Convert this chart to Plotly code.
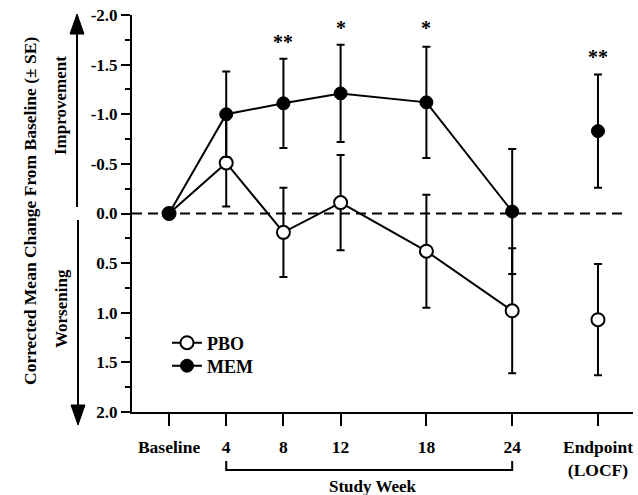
import plotly.graph_objects as go

# ---- data ----
weeks = [0, 4, 8, 12, 18, 24]
endpoint_x = [30]
tick_vals = [0, 4, 8, 12, 18, 24, 30]
tick_text = ["Baseline", "4", "8", "12", "18", "24", "Endpoint<br>(LOCF)"]

pbo_mean = [0.0, -0.51, 0.19, -0.11, 0.38, 0.98]
pbo_se = [0.0, 0.44, 0.45, 0.48, 0.57, 0.63]
pbo_end_mean = [1.07]
pbo_end_se = [0.56]

mem_mean = [0.0, -1.00, -1.11, -1.21, -1.12, -0.02]
mem_se = [0.0, 0.43, 0.45, 0.49, 0.56, 0.63]
mem_end_mean = [-0.83]
mem_end_se = [0.57]

sig_x = [8, 12, 18, 30]
sig_text = ["**", "*", "*", "**"]
sig_y = [-1.73, -1.87, -1.87, -1.58]

y_ticks = [-2.0, -1.5, -1.0, -0.5, 0.0, 0.5, 1.0, 1.5, 2.0]
y_tick_text = ["-2.0", "-1.5", "-1.0", "-0.5", "0.0", "0.5", "1.0", "1.5", "2.0"]

# ---- layout geometry ----
W, H = 638, 495
ML, MR, MT, MB = 132, 5, 15, 83
PW, PH = W - ML - MR, H - MT - MB
XMIN, XMAX = -2.59, 32.45
FONT = "Liberation Serif"


def px_x(p):
    return (p - ML) / PW


def px_y(p):
    return (H - MB - p) / PH


def wk_x(w):
    return (w - XMIN) / (XMAX - XMIN)


fig = go.Figure()

err_style = dict(type="data", color="black", thickness=2, width=4)

# PBO
fig.add_trace(go.Scatter(
    x=weeks, y=pbo_mean, mode="lines+markers", name="PBO", legend="legend",
    error_y=dict(array=pbo_se, **err_style),
    line=dict(color="black", width=2),
    marker=dict(symbol="circle", size=13, color="white", line=dict(color="black", width=2)),
))
fig.add_trace(go.Scatter(
    x=endpoint_x, y=pbo_end_mean, mode="markers", showlegend=False,
    error_y=dict(array=pbo_end_se, **err_style),
    marker=dict(symbol="circle", size=13, color="white", line=dict(color="black", width=2)),
))
# MEM
fig.add_trace(go.Scatter(
    x=weeks, y=mem_mean, mode="lines+markers", name="MEM", legend="legend2",
    error_y=dict(array=mem_se, **err_style),
    line=dict(color="black", width=2),
    marker=dict(symbol="circle", size=13, color="black", line=dict(color="black", width=1)),
))
fig.add_trace(go.Scatter(
    x=endpoint_x, y=mem_end_mean, mode="markers", showlegend=False,
    error_y=dict(array=mem_end_se, **err_style),
    marker=dict(symbol="circle", size=13, color="black", line=dict(color="black", width=1)),
))

annotations = []
for xv, tv, yv in zip(sig_x, sig_text, sig_y):
    annotations.append(dict(x=xv, y=yv, xref="x", yref="y", text=tv, showarrow=False,
                            xanchor="center", yanchor="middle",
                            font=dict(family=FONT, size=20, color="black", weight="bold")))

annotations += [
    dict(x=px_x(30), y=px_y(211), xref="paper", yref="paper", showarrow=False, textangle=-90,
         xanchor="center", yanchor="middle",
         text="Corrected Mean Change From Baseline (± SE)",
         font=dict(family=FONT, size=17.5, color="black", weight="bold")),
    dict(x=px_x(61), y=px_y(106), xref="paper", yref="paper", showarrow=False, textangle=-90,
         xanchor="center", yanchor="middle",
         text="Improvement", font=dict(family=FONT, size=17, color="black", weight="bold")),
    dict(x=px_x(61), y=px_y(309), xref="paper", yref="paper", showarrow=False, textangle=-90,
         xanchor="center", yanchor="middle",
         text="Worsening", font=dict(family=FONT, size=17, color="black", weight="bold")),
    dict(x=px_x(373), y=px_y(487), xref="paper", yref="paper", showarrow=False,
         xanchor="center", yanchor="middle",
         text="Study Week", font=dict(family=FONT, size=17, color="black", weight="bold")),
]

ax_x = 77
shapes = [
    dict(type="line", xref="x", yref="y", x0=XMIN, x1=32.1, y0=0, y1=0, layer="below",
         line=dict(color="black", width=2, dash="10px,6px")),
    # bracket under study weeks
    dict(type="path", xref="paper", yref="paper",
         path=(f"M {wk_x(4)},{px_y(461)} L {wk_x(4)},{px_y(470)} "
               f"L {wk_x(24)},{px_y(470)} L {wk_x(24)},{px_y(461)}"),
         line=dict(color="black", width=2)),
    # improvement arrow
    dict(type="line", xref="paper", yref="paper", x0=px_x(ax_x), x1=px_x(ax_x),
         y0=px_y(30), y1=px_y(207), line=dict(color="black", width=2)),
    dict(type="path", xref="paper", yref="paper", fillcolor="black",
         path=(f"M {px_x(ax_x)},{px_y(14)} L {px_x(ax_x - 7)},{px_y(34)} "
               f"L {px_x(ax_x + 7)},{px_y(34)} Z"),
         line=dict(color="black", width=1)),
    # worsening arrow
    dict(type="line", xref="paper", yref="paper", x0=px_x(ax_x + 1), x1=px_x(ax_x + 1),
         y0=px_y(220), y1=px_y(410), line=dict(color="black", width=2)),
    dict(type="path", xref="paper", yref="paper", fillcolor="black",
         path=(f"M {px_x(ax_x + 1)},{px_y(425)} L {px_x(ax_x - 6)},{px_y(405)} "
               f"L {px_x(ax_x + 8)},{px_y(405)} Z"),
         line=dict(color="black", width=1)),
]

legend_font = dict(family=FONT, size=18, color="black", weight="bold")

fig.update_layout(
    width=W, height=H,
    margin=dict(l=ML, r=MR, t=MT, b=MB),
    paper_bgcolor="white", plot_bgcolor="white",
    font=dict(family=FONT, color="black"),
    showlegend=True,
    legend=dict(x=px_x(167), y=px_y(343), xanchor="left", yanchor="middle",
                bgcolor="rgba(0,0,0,0)", font=legend_font),
    legend2=dict(x=px_x(167), y=px_y(366), xanchor="left", yanchor="middle",
                 bgcolor="rgba(0,0,0,0)", font=legend_font),
    annotations=annotations,
    shapes=shapes,
    xaxis=dict(range=[XMIN, XMAX], tickmode="array", tickvals=tick_vals, ticktext=tick_text,
               showline=True, linecolor="black", linewidth=2, ticks="outside", ticklen=12,
               tickwidth=2, tickcolor="black", showgrid=False, zeroline=False, automargin=False,
               ticklabelstandoff=6,
               tickfont=dict(family=FONT, size=17.5, color="black", weight="bold")),
    yaxis=dict(range=[2.0, -2.0], tickmode="array", tickvals=y_ticks, ticktext=y_tick_text,
               showline=True, linecolor="black", linewidth=2, ticks="outside", ticklen=9,
               tickwidth=2, tickcolor="black", showgrid=False, zeroline=False, automargin=False,
               minor=dict(ticks="outside", ticklen=5, tickwidth=2, tickcolor="black",
                          tickmode="linear", tick0=0, dtick=0.25, showgrid=False),
               tickfont=dict(family=FONT, size=17, color="black", weight="bold")),
)

fig.write_html("out.html", config={"displayModeBar": False},
               post_script="document.body.style.margin='0';")
